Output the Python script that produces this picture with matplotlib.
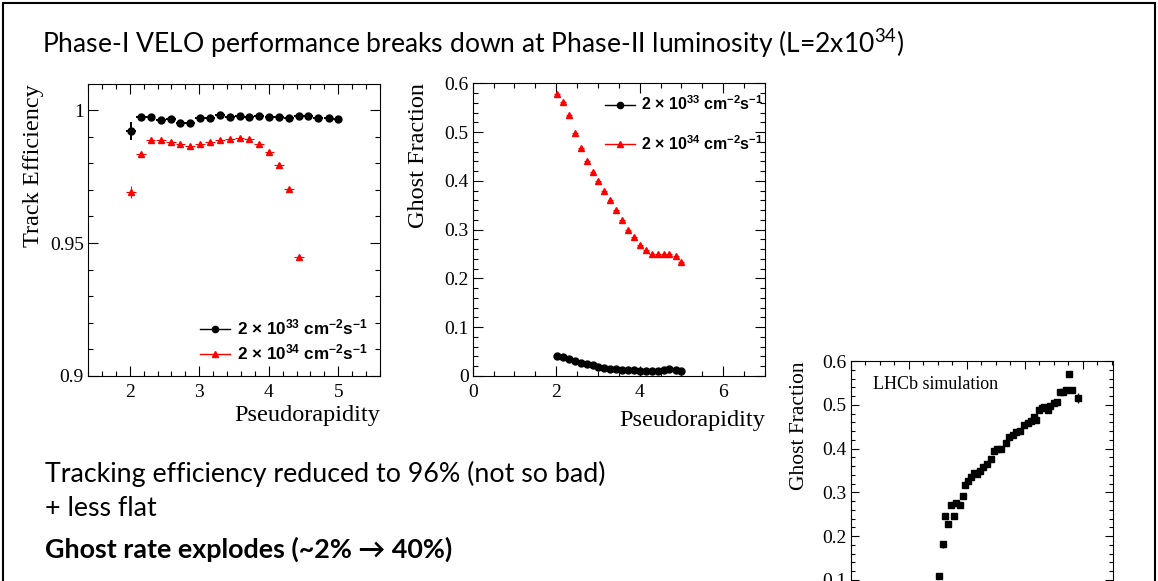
import matplotlib
matplotlib.use("Agg")
import matplotlib.pyplot as plt
from matplotlib.lines import Line2D
from matplotlib.patches import Rectangle
from matplotlib.ticker import MultipleLocator, FuncFormatter

# pseudorapidity bin centres used by both VELO plots
eta = [2.02, 2.16, 2.30, 2.45, 2.59, 2.73, 2.87, 3.01, 3.15, 3.30, 3.44,
       3.58, 3.72, 3.86, 4.01, 4.15, 4.29, 4.43, 4.57, 4.71, 4.86, 4.99]
eta_halfbin = 0.07

# tracking efficiency, 2x10^33 (all bins) and 2x10^34 (first 18 bins)
eff_low = [0.9922, 0.9974, 0.9974, 0.9964, 0.9966, 0.9951, 0.9951, 0.9969,
           0.9972, 0.9980, 0.9975, 0.9979, 0.9975, 0.9977, 0.9975, 0.9975,
           0.9970, 0.9976, 0.9976, 0.9971, 0.9971, 0.9966]
eff_low_err = [0.0034] + [0.0004] * 21
eff_high = [0.9693, 0.9834, 0.9889, 0.9889, 0.9881, 0.9872, 0.9865, 0.9874,
            0.9879, 0.9889, 0.9892, 0.9895, 0.9892, 0.9874, 0.9844, 0.9792,
            0.9705, 0.9447]
eff_high_err = [0.0023, 0.0008] + [0.0004] * 16

# ghost fraction
ghost_low = [0.041, 0.038, 0.034, 0.031, 0.027, 0.025, 0.022, 0.019, 0.017,
             0.015, 0.014, 0.013, 0.012, 0.012, 0.011, 0.010, 0.010, 0.011,
             0.013, 0.015, 0.012, 0.010]
ghost_high = [0.579, 0.562, 0.534, 0.499, 0.467, 0.441, 0.418, 0.399, 0.379,
              0.360, 0.340, 0.319, 0.300, 0.284, 0.269, 0.258, 0.251, 0.250,
              0.250, 0.251, 0.246, 0.234]

# LHCb simulation inset (cut off by the slide), x in arbitrary units
lhcb_x = [1.525, 1.583, 1.623, 1.680, 1.722, 1.773, 1.813, 1.882, 1.929,
          1.974, 2.026, 2.070, 2.130, 2.180, 2.230, 2.285, 2.340, 2.410,
          2.470, 2.527, 2.585, 2.670, 2.730, 2.790, 2.850, 2.907, 2.976,
          3.045, 3.100, 3.160, 3.195, 3.235, 3.293, 3.333, 3.390, 3.437,
          3.494, 3.550, 3.600, 3.656, 3.713, 3.760, 3.817, 3.909]
lhcb_y = [0.108, 0.181, 0.246, 0.227, 0.271, 0.246, 0.275, 0.271, 0.292,
          0.316, 0.326, 0.336, 0.345, 0.342, 0.349, 0.357, 0.365, 0.375,
          0.395, 0.399, 0.400, 0.413, 0.426, 0.431, 0.437, 0.441, 0.454,
          0.459, 0.462, 0.472, 0.466, 0.488, 0.492, 0.494, 0.487, 0.497,
          0.503, 0.507, 0.530, 0.529, 0.534, 0.571, 0.534, 0.516]
lhcb_yerr = [0.003, 0.008] + [0.003] * 41 + [0.012]

lumi_labels = [r"2 × 10$\mathregular{^{33}}$ cm$\mathregular{^{-2}}$s$\mathregular{^{-1}}$",
               r"2 × 10$\mathregular{^{34}}$ cm$\mathregular{^{-2}}$s$\mathregular{^{-1}}$"]

title = r"Phase-I VELO performance breaks down at Phase-II luminosity (L=2x10$\mathregular{^{34}}$)"
notes = ["Tracking efficiency reduced to 96% (not so bad)",
         "+ less flat",
         "Ghost rate explodes (~2% → 40%)"]

W, H = 1158, 581
plt.rcParams['font.family'] = ['Liberation Serif', 'DejaVu Serif']
fig = plt.figure(figsize=(W / 100, H / 100), dpi=100)
fig.patch.set_facecolor('white')


def px_axes(left, top, right, bottom):
    return fig.add_axes([left / W, 1 - bottom / H, (right - left) / W, (bottom - top) / H])


def root_style(ax, xmaj, xmin, ymaj, ymin):
    ax.xaxis.set_major_locator(MultipleLocator(xmaj))
    ax.xaxis.set_minor_locator(MultipleLocator(xmin))
    ax.yaxis.set_major_locator(MultipleLocator(ymaj))
    ax.yaxis.set_minor_locator(MultipleLocator(ymin))
    ax.yaxis.set_major_formatter(FuncFormatter(lambda v, p: '%g' % round(v, 4)))
    ax.tick_params(which='both', direction='in', top=True, right=True,
                   labelsize=14, width=0.8, pad=3)
    ax.tick_params(axis='x', which='both', pad=6)
    ax.tick_params(which='major', length=7)
    ax.tick_params(which='minor', length=3.5)
    for s in ax.spines.values():
        s.set_linewidth(0.8)


def root_labels(ax, xlabel, ylabel, xlab_y):
    ax.set_xlabel(xlabel, fontsize=17.5, ha='right', va='top')
    ax.xaxis.set_label_coords(1.0, xlab_y)
    ax.set_ylabel(ylabel, fontsize=17.5, ha='right', va='center')
    ax.yaxis.set_label_coords(-0.185, 1.0)


def lumi_legend(ax, anchor, size, spacing):
    handles = [Line2D([0], [0], color='black', marker='o', ms=4.5, lw=1),
               Line2D([0], [0], color='red', marker='^', ms=4, lw=1)]
    ax.legend(handles, lumi_labels, loc='upper left', bbox_to_anchor=anchor,
              frameon=False, handletextpad=0.4, labelspacing=spacing,
              handlelength=30 / (size * 100 / 72),
              prop={'family': 'Liberation Sans', 'weight': 'bold', 'size': size},
              borderpad=0, borderaxespad=0)


# --- track efficiency ---
ax1 = px_axes(88, 84, 380, 376)
ax1.errorbar(eta[:len(eff_high)], eff_high, xerr=eta_halfbin, yerr=eff_high_err,
             fmt='^', color='red', ms=4, elinewidth=0.8, capsize=0)
ax1.errorbar(eta, eff_low, xerr=eta_halfbin, yerr=eff_low_err,
             fmt='o', color='black', ms=5, elinewidth=1.4, capsize=0)
ax1.set_xlim(1.4, 5.6)
ax1.set_ylim(0.9, 1.0098)
root_style(ax1, 1, 0.2, 0.05, 0.01)
root_labels(ax1, 'Pseudorapidity', 'Track Efficiency', -0.1)
lumi_legend(ax1, (0.384, 0.2), 12.3, 0.3)

# --- ghost fraction ---
ax2 = px_axes(472.7, 83.3, 765, 376)
ax2.errorbar(eta, ghost_high, xerr=eta_halfbin, yerr=0.002,
             fmt='^', color='red', ms=4, elinewidth=0.8, capsize=0)
ax2.errorbar(eta, ghost_low, xerr=eta_halfbin, yerr=0.001,
             fmt='o', color='black', ms=5, elinewidth=1.4, capsize=0)
ax2.set_xlim(0, 7)
ax2.set_ylim(0, 0.6)
root_style(ax2, 2, 0.5, 0.1, 0.02)
root_labels(ax2, 'Pseudorapidity', 'Ghost Fraction', -0.115)
lumi_legend(ax2, (0.4526, 0.962), 11.5, 1.3)

# --- LHCb simulation plot, partly below the slide edge ---
ax3 = px_axes(851, 361, 1113, 623.6)
ax3.errorbar(lhcb_x, lhcb_y, xerr=0.025, yerr=lhcb_yerr,
             fmt='s', color='black', ms=4.3, elinewidth=1, capsize=0)
ax3.set_xlim(0, 4.52)
ax3.set_ylim(0, 0.6)
root_style(ax3, 1, 0.25, 0.1, 0.02)
ax3.tick_params(which='major', length=6)
ax3.tick_params(which='minor', length=3)
ax3.tick_params(axis='x', labelbottom=False)
ax3.set_ylabel('Ghost Fraction', fontsize=15.5, ha='right', va='center')
ax3.yaxis.set_label_coords(-0.195, 1.0)
ax3.text(0.084, 0.909, 'LHCb simulation', transform=ax3.transAxes,
         fontsize=13, va='center', ha='left')

# --- slide text ---
slide_font = ['Lato', 'DejaVu Sans']
t_title = fig.text(42 / W, 1 - 53.5 / H, title, family=slide_font, fontsize=18,
                   va='baseline', ha='left')
t1 = fig.text(45 / W, 1 - 482 / H, notes[0], family=slide_font, fontsize=18,
              va='baseline', ha='left')
t2 = fig.text(45 / W, 1 - 516 / H, notes[1], family=slide_font, fontsize=18,
              va='baseline', ha='left')
t3 = fig.text(45 / W, 1 - 558 / H, notes[2], family=slide_font, fontsize=18,
              weight='bold', va='baseline', ha='left')

# scale the slide text to the widths measured on the slide
fig.canvas.draw()
renderer = fig.canvas.get_renderer()
for txt, target in [(t_title, 863), (t1, 558), (t3, 408)]:
    w = txt.get_window_extent(renderer).width
    txt.set_fontsize(txt.get_fontsize() * target / w)
t2.set_fontsize(t1.get_fontsize())

# slide border
fig.add_artist(Rectangle((3 / W, -0.05), (1155 - 3) / W, 1 - 3 / H + 0.05,
                         transform=fig.transFigure, fill=False, lw=1.5,
                         edgecolor='black', clip_on=False))

fig.savefig('out.png', dpi=100)
